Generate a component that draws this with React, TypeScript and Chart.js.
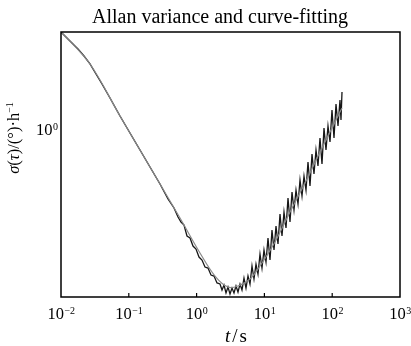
import React, { useEffect, useRef } from "react";
import { Chart, registerables } from "chart.js";

Chart.register(...registerables);

// Measured Allan deviation (tau in s, sigma in (°)/h)
const tau = [
  0.01, 0.01185, 0.01453, 0.01781, 0.02184, 0.02677, 0.03282, 0.04024, 0.05281, 0.07418,
  0.1041, 0.1463, 0.2054, 0.2885, 0.3786, 0.4642, 0.5317, 0.5888, 0.652, 0.7218,
  0.7994, 0.8851, 0.9799, 1.085, 1.201, 1.33, 1.473, 1.631, 1.806, 2.0,
  2.214, 2.37, 2.536, 2.714, 2.905, 3.109, 3.327, 3.561, 3.811, 4.079,
  4.366, 4.672, 5.0, 5.352, 5.728, 6.131, 6.562, 7.023, 7.517, 8.045,
  8.611, 9.216, 9.864, 10.56, 11.3, 12.09, 12.94, 13.86, 14.83, 15.87,
  16.99, 18.18, 19.46, 20.83, 22.29, 23.86, 25.54, 27.33, 29.25, 31.31,
  33.51, 35.86, 38.38, 41.08, 43.96, 47.05, 50.36, 53.89, 57.68, 61.73,
  66.07, 70.71, 75.68, 81.0, 86.7, 92.8, 99.3, 106.3, 113.8, 121.8,
  130.3, 134.8, 139.5,
];
const sigma = [
  2.6, 2.475, 2.333, 2.198, 2.051, 1.896, 1.718, 1.556, 1.355, 1.134,
  0.959, 0.811, 0.686, 0.58, 0.5, 0.4574, 0.4183, 0.3983, 0.3868, 0.3469,
  0.3401, 0.3143, 0.3051, 0.2819, 0.2737, 0.2555, 0.2529, 0.236, 0.2337, 0.2182,
  0.216, 0.2036, 0.2138, 0.1976, 0.2096, 0.1956, 0.2076, 0.1976, 0.2117, 0.1995,
  0.216, 0.2036, 0.2291, 0.2076, 0.2337, 0.216, 0.258, 0.2269, 0.263, 0.2384,
  0.2904, 0.2529, 0.3021, 0.2684, 0.3401, 0.2737, 0.3681, 0.3021, 0.3829, 0.3206,
  0.431, 0.3469, 0.4396, 0.3754, 0.5049, 0.3983, 0.5356, 0.4485, 0.5463, 0.4759,
  0.6031, 0.5149, 0.6272, 0.5463, 0.7204, 0.5683, 0.7795, 0.64, 0.811, 0.6926,
  0.9131, 0.7063, 1.0076, 0.811, 1.028, 0.8777, 1.204, 0.9131, 1.277, 1.028,
  1.329, 1.09, 1.438,
];

// Fitted curve
const fitTau = [0.01, 0.02677, 0.07418, 0.2054, 0.5691, 1.122, 1.868, 2.905, 4.079, 6.131, 8.611, 14.33, 23.86, 39.71, 66.07, 110.0, 139.5];
const fitSigma = [2.6, 1.896, 1.134, 0.686, 0.4142, 0.2934, 0.2337, 0.2096, 0.2117, 0.2269, 0.258, 0.327, 0.4396, 0.5854, 0.795, 1.069, 1.228];

const xMin = 0.01;
const xMax = 1000;
const yMin = 0.19;
const yMax = 2.6;

const xTickValues = [0.01, 0.1, 1, 10, 100, 1000];
const xTickExponents = ["\u22122", "\u22121", "0", "1", "2", "3"];
const yTickValues = [1];
const yTickExponents = ["0"];

const titleText = "Allan variance and curve-fitting";

const SERIF = "'Liberation Serif', 'Times New Roman', serif";

const decorPlugin = {
  id: "decor",
  afterDraw(chart: any) {
    const { ctx, chartArea } = chart;
    const { left, right, top, bottom } = chartArea;
    const xs = chart.scales.x;
    const ys = chart.scales.y;
    ctx.save();
    // frame
    ctx.strokeStyle = "#000";
    ctx.lineWidth = 1.5;
    ctx.strokeRect(left, top, right - left, bottom - top);

    // x ticks (inward) + labels
    ctx.lineWidth = 1.2;
    ctx.fillStyle = "#000";
    ctx.textBaseline = "alphabetic";
    xTickValues.forEach((v, i) => {
      const px = xs.getPixelForValue(v);
      if (px > left + 1 && px < right - 1) {
        ctx.beginPath();
        ctx.moveTo(px, bottom);
        ctx.lineTo(px, bottom - 4);
        ctx.stroke();
      }
      ctx.font = `16.5px ${SERIF}`;
      const w1 = ctx.measureText("10").width;
      ctx.font = `10px ${SERIF}`;
      const w2 = ctx.measureText(xTickExponents[i]).width;
      const x0 = px - (w1 + w2) / 2;
      ctx.textAlign = "left";
      ctx.font = `16.5px ${SERIF}`;
      ctx.fillText("10", x0, 319);
      ctx.font = `10px ${SERIF}`;
      ctx.fillText(xTickExponents[i], x0 + w1 + 0.5, 314);
    });

    // y tick labels
    yTickValues.forEach((v, i) => {
      const py = ys.getPixelForValue(v);
      ctx.font = `10px ${SERIF}`;
      const w2 = ctx.measureText(yTickExponents[i]).width;
      ctx.font = `16.5px ${SERIF}`;
      const w1 = ctx.measureText("10").width;
      const xEnd = left - 3;
      ctx.textAlign = "left";
      ctx.fillText("10", xEnd - w2 - w1 - 0.5, py + 6);
      ctx.font = `10px ${SERIF}`;
      ctx.fillText(yTickExponents[i], xEnd - w2, py + 1);
    });

    // title
    ctx.font = `20px ${SERIF}`;
    ctx.textAlign = "center";
    ctx.fillText(titleText, 220, 23);

    // x axis title: t/s
    ctx.textAlign = "left";
    const xparts = [
      { t: "t", f: `italic 19px ${SERIF}` },
      { t: "/", f: `19px ${SERIF}` },
      { t: "s", f: `19px ${SERIF}` },
    ];
    const gap = 2;
    let tw = 0;
    const xw = xparts.map((p) => {
      ctx.font = p.f;
      const w = ctx.measureText(p.t).width;
      tw += w;
      return w;
    });
    tw += gap * (xparts.length - 1);
    let xc = 236 - tw / 2;
    xparts.forEach((p, i) => {
      ctx.font = p.f;
      ctx.fillText(p.t, xc, 342);
      xc += xw[i] + gap;
    });

    // y axis title
    const parts = [
      { t: "\u03C3", f: `italic 16.5px ${SERIF}`, dy: 0 },
      { t: "(", f: `16.5px ${SERIF}`, dy: 0 },
      { t: "\u03C4", f: `italic 16.5px ${SERIF}`, dy: 0 },
      { t: ")/(\u00B0)\u00B7h", f: `16.5px ${SERIF}`, dy: 0 },
      { t: "\u22121", f: `10px ${SERIF}`, dy: -6 },
    ];
    let total = 0;
    const widths = parts.map((p) => {
      ctx.font = p.f;
      const w = ctx.measureText(p.t).width;
      total += w;
      return w;
    });
    ctx.translate(18.5, 138);
    ctx.rotate(-Math.PI / 2);
    let cx = -total / 2;
    parts.forEach((p, i) => {
      ctx.font = p.f;
      ctx.fillText(p.t, cx, p.dy);
      cx += widths[i];
    });
    ctx.restore();
  },
};

export default function App() {
  const ref = useRef<HTMLCanvasElement | null>(null);
  useEffect(() => {
    if (!ref.current) return;
    const chart = new Chart(ref.current, {
      type: "line",
      data: {
        datasets: [
          {
            label: "fit",
            data: fitTau.map((t, i) => ({ x: t, y: fitSigma[i] })),
            borderColor: "#8a8a8a",
            borderWidth: 1.2,
            pointRadius: 0,
            tension: 0.35,
            fill: false,
          },
          {
            label: "data",
            data: tau.map((t, i) => ({ x: t, y: sigma[i] })),
            borderColor: "#161616",
            borderWidth: 1.3,
            pointRadius: 0,
            tension: 0,
            fill: false,
          },
        ],
      },
      options: {
        animation: false,
        responsive: false,
        devicePixelRatio: 1,
        layout: { padding: { left: 61, right: 11, top: 32, bottom: 49 } },
        plugins: {
          legend: { display: false },
          title: { display: false },
          tooltip: { enabled: false },
        },
        scales: {
          x: { type: "logarithmic", min: xMin, max: xMax, display: false },
          y: { type: "logarithmic", min: yMin, max: yMax, display: false },
        },
      },
      plugins: [decorPlugin],
    });
    return () => chart.destroy();
  }, []);
  return (
    <div style={{ position: "fixed", left: 0, top: 0, width: 411, height: 346, background: "#fff" }}>
      <canvas ref={ref} width={411} height={346} style={{ width: 411, height: 346 }} />
    </div>
  );
}
